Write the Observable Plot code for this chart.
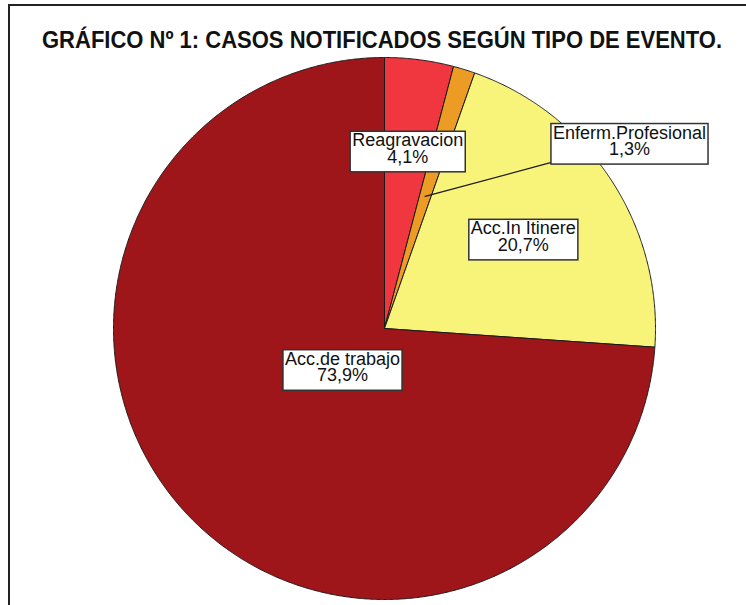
<!DOCTYPE html>
<html>
<head>
<meta charset="utf-8">
<script src="https://cdn.jsdelivr.net/npm/d3@7"></script>
<script src="https://cdn.jsdelivr.net/npm/@observablehq/plot@0.6"></script>
<style>
  html, body { margin: 0; padding: 0; background: #fff; }
  #wrap { position: relative; width: 746px; height: 605px; overflow: hidden; }
  #frame { position: absolute; left: 8px; top: 4px; right: -10px; bottom: -10px;
           border-top: 2px solid #222; border-left: 2px solid #222; pointer-events: none; }
  #title { position: relative; height: 57px; }
  #title span { position: absolute; top: 28px; left: 0; line-height: 24px;
           font-family: "Liberation Sans", Arial, sans-serif;
           font-weight: bold; font-size: 24px; color: #111; white-space: nowrap;
           transform-origin: 0 0; }
  #chart svg { display: block; }
</style>
</head>
<body>
<div id="wrap">
  <div id="title"><span>GRÁFICO Nº 1: CASOS NOTIFICADOS SEGÚN TIPO DE EVENTO.</span></div>
  <div id="chart"></div>
  <div id="frame"></div>
</div>
<script>
// ---- data ----
const categories = ["Reagravacion", "Enferm.Profesional", "Acc.In Itinere", "Acc.de trabajo"];
const percents = [4.1, 1.3, 20.7, 73.9];
const percentLabels = ["4,1%", "1,3%", "20,7%", "73,9%"];
const colors = ["#f0363f", "#ec9b24", "#f8f479", "#9f161a"];

// ---- layout (label placement, in pie-radius units) ----
const labelRadius = [0.667, 0.51, 0.613, 0.212];   // along each slice's mid-angle
const outsideLabel = {index: 1, x: 0.904, y: 0.690, cornerX: 0.616, cornerY: 0.613};

// ---- title: condensed to the reference width ----
(function () {
  const s = document.querySelector("#title span");
  const w = s.getBoundingClientRect().width;
  const target = 680, left = 42;
  s.style.left = left + "px";
  s.style.transform = "scaleX(" + (target / w) + ")";
})();

// ---- slice geometry from d3.pie (angles clockwise from 12 o'clock) ----
const arcs = d3.pie().sort(null).value(d => d)(percents);
const slicePts = [];
arcs.forEach((a, i) => {
  const name = categories[i];
  slicePts.push({name, x: 0, y: 0});
  const n = Math.max(2, Math.ceil((a.endAngle - a.startAngle) / (Math.PI / 720)));
  for (let k = 0; k <= n; k++) {
    const t = a.startAngle + (a.endAngle - a.startAngle) * k / n;
    slicePts.push({name, x: Math.sin(t), y: Math.cos(t)});
  }
  slicePts.push({name, x: 0, y: 0});
});

const labels = arcs.map((a, i) => {
  const mid = (a.startAngle + a.endAngle) / 2;
  const r = labelRadius[i];
  return {name: categories[i], text: categories[i] + "\n" + percentLabels[i],
          ax: Math.sin(mid) * r, ay: Math.cos(mid) * r};
});
const inside = labels.filter((d, i) => i !== outsideLabel.index);
const out = labels[outsideLabel.index];
const leader = [{x: out.ax, y: out.ay}, {x: outsideLabel.cornerX, y: outsideLabel.cornerY}];
const outLabel = [{text: out.text, x: outsideLabel.x, y: outsideLabel.y}];

const font = "'Liberation Sans', Arial, sans-serif";
const chart = Plot.plot({
  width: 746, height: 548,
  margin: 0,
  x: {domain: [-1, 1], range: [113, 655], axis: null},
  y: {domain: [-1, 1], range: [542, 0], axis: null},
  color: {domain: categories, range: colors},
  marks: [
    Plot.line(slicePts, {x: "x", y: "y", z: "name", fill: "name", stroke: "#1a1a1a", strokeWidth: 1, curve: "linear", strokeLinejoin: "round"}),
    Plot.line(leader, {x: "x", y: "y", stroke: "#1a1a1a", strokeWidth: 1.2}),
    Plot.text(inside, {x: "ax", y: "ay", text: "text", fontSize: 18, lineHeight: 0.92, lineAnchor: "middle", fontFamily: font, fill: "#111", className: "lbl"}),
    Plot.text(outLabel, {x: "x", y: "y", text: "text", fontSize: 18, lineHeight: 0.92, lineAnchor: "middle", fontFamily: font, fill: "#111", className: "lbl"})
  ]
});
document.getElementById("chart").append(chart);

// white label boxes behind texts
chart.querySelectorAll(".lbl text").forEach(t => {
  const b = t.getBBox();
  const r = document.createElementNS("http://www.w3.org/2000/svg", "rect");
  r.setAttribute("x", b.x - 2);
  r.setAttribute("y", b.y + 1);
  r.setAttribute("width", b.width + 4);
  r.setAttribute("height", b.height + 4);
  r.setAttribute("fill", "#fff");
  r.setAttribute("stroke", "#333");
  r.setAttribute("stroke-width", 1.5);
  const tr = t.getAttribute("transform");
  if (tr) r.setAttribute("transform", tr);
  t.parentNode.insertBefore(r, t);
});
</script>
</body>
</html>
